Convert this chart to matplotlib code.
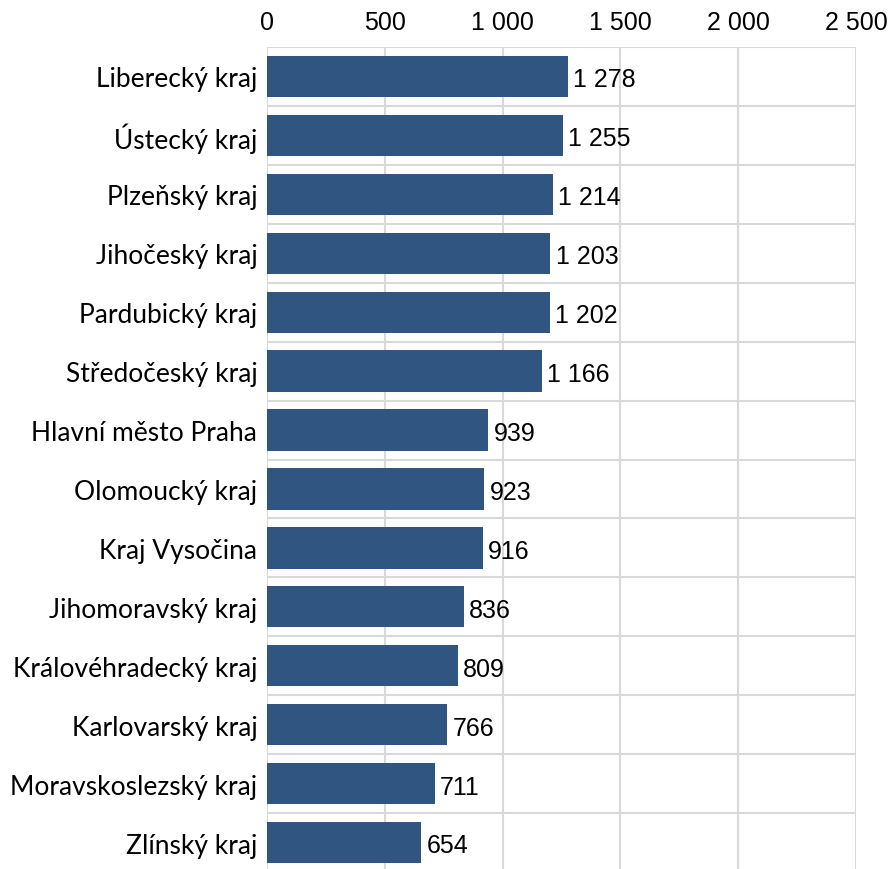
import matplotlib.pyplot as plt
from matplotlib.ticker import FuncFormatter, MultipleLocator

regions = ['Liberecký kraj', 'Ústecký kraj', 'Plzeňský kraj', 'Jihočeský kraj',
           'Pardubický kraj', 'Středočeský kraj', 'Hlavní město Praha', 'Olomoucký kraj',
           'Kraj Vysočina', 'Jihomoravský kraj', 'Královéhradecký kraj', 'Karlovarský kraj',
           'Moravskoslezský kraj', 'Zlínský kraj']
values = [1278, 1255, 1214, 1203, 1202, 1166, 939, 923, 916, 836, 809, 766, 711, 654]
xticks = [0, 500, 1000, 1500, 2000, 2500]

bar_color = '#2F5580'
grid_color = '#D9D9D9'


def fmt(v):
    return f'{int(v):,}'.replace(',', ' ')


fig = plt.figure(figsize=(8.93, 8.7), dpi=100)
ax = fig.add_axes([267 / 893, -3 / 870, 589 / 893, 825 / 870])

y = range(len(regions))
ax.barh(y, values, height=0.7, color=bar_color, zorder=3)

for i, v in enumerate(values):
    ax.text(v + 22, i + 0.05, fmt(v), va='center', ha='left',
            fontsize=18, family='Liberation Sans', color='black')

ax.set_xlim(0, 2500)
ax.set_ylim(len(regions) - 0.5, -0.5)
ax.set_xticks(xticks)
ax.xaxis.set_major_formatter(FuncFormatter(lambda v, p: fmt(v)))
ax.set_yticks(list(y))
ax.set_yticklabels(regions, family='Lato', fontsize=19)
ax.yaxis.set_minor_locator(MultipleLocator(1, offset=0.5))

ax.tick_params(axis='x', top=True, labeltop=True, bottom=False, labelbottom=False,
               length=0, pad=9, labelsize=18)
for lab in ax.get_xticklabels():
    lab.set_family('Liberation Sans')
ax.tick_params(axis='y', which='both', length=0, pad=7)

ax.grid(axis='x', which='major', color=grid_color, linewidth=1.5, zorder=0)
ax.grid(axis='y', which='minor', color=grid_color, linewidth=1.5, zorder=0)
ax.grid(axis='y', which='major', visible=False)
for s in ax.spines.values():
    s.set_visible(False)

fig.savefig('out.png', dpi=100)
